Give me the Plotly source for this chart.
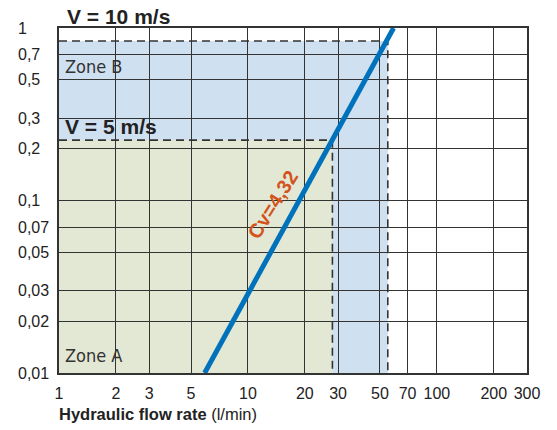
import numpy as np
import plotly.graph_objects as go

# ---------------- data ----------------
x_ticks = [1, 2, 3, 5, 10, 20, 30, 50, 70, 100, 200, 300]
x_tick_labels = ["1", "2", "3", "5", "10", "20", "30", "50", "70", "100", "200", "300"]
y_ticks = [1, 0.7, 0.5, 0.3, 0.2, 0.1, 0.07, 0.05, 0.03, 0.02, 0.01]
y_tick_labels = ["1", "0,7", "0,5", "0,3", "0,2", "0,1", "0,07", "0,05", "0,03", "0,02", "0,01"]

# Cv = 4,32 characteristic (flow l/min vs pressure drop)
cv_flow = [5.9, 59]
cv_dp = [0.01, 1]

# zone limits
zone_a_flow = 28     # V = 5 m/s
zone_a_dp = 0.224
zone_b_flow = 55     # V = 10 m/s
zone_b_dp = 0.84
x_min, x_max = 1, 300
y_min, y_max = 0.01, 1

FONT = "Liberation Sans, Arial, Helvetica, sans-serif"
NARROW = "Liberation Sans Narrow, DejaVu Sans Condensed, Arial Narrow, sans-serif"
TXT = "#222222"

fig = go.Figure()

# dashed limit lines
fig.add_trace(go.Scatter(x=[x_min, zone_b_flow, zone_b_flow], y=[zone_b_dp, zone_b_dp, y_min],
                         mode="lines", line=dict(color="#333333", width=1.6, dash="8px,5px"),
                         hoverinfo="skip", showlegend=False))
fig.add_trace(go.Scatter(x=[x_min, zone_a_flow, zone_a_flow], y=[zone_a_dp, zone_a_dp, y_min],
                         mode="lines", line=dict(color="#333333", width=1.6, dash="8px,5px"),
                         hoverinfo="skip", showlegend=False))
# Cv line
fig.add_trace(go.Scatter(x=cv_flow, y=cv_dp, mode="lines",
                         line=dict(color="#0072bc", width=5), showlegend=False, cliponaxis=True))

# zones as shapes below the grid
fig.add_shape(type="rect", xref="x", yref="y", x0=x_min, x1=zone_b_flow, y0=y_min, y1=zone_b_dp,
              fillcolor="#cfe0f1", line=dict(width=0), layer="below")
fig.add_shape(type="rect", xref="x", yref="y", x0=x_min, x1=zone_a_flow, y0=y_min, y1=zone_a_dp,
              fillcolor="#e2e8d4", line=dict(width=0), layer="below")

ann = []
# y tick labels, left aligned
for v, t in zip(y_ticks, y_tick_labels):
    ann.append(dict(x=-0.092, xref="paper", y=np.log10(v), yref="y", text=t, showarrow=False,
                    xanchor="left", yanchor="middle", font=dict(family=FONT, size=16, color=TXT)))

lx = np.log10(1.05)
ann += [
    dict(x=0.012, xref="paper", y=1.0, yref="paper", yanchor="bottom", yshift=-2,
         text="<b>V = 10 m/s</b>", showarrow=False,
         xanchor="left", font=dict(family=FONT, size=21, color=TXT)),
    dict(x=lx, y=np.log10(0.27), text="<b>V = 5 m/s</b>", showarrow=False,
         xanchor="left", yanchor="middle", font=dict(family=FONT, size=21, color=TXT)),
    dict(x=lx, y=np.log10(0.6), text="Zone B", showarrow=False,
         xanchor="left", yanchor="middle", font=dict(family=NARROW, size=18, color="#333333")),
    dict(x=lx, y=np.log10(0.0126), text="Zone A", showarrow=False,
         xanchor="left", yanchor="middle", font=dict(family=NARROW, size=18, color="#333333")),
    dict(x=np.log10(13.5), y=np.log10(0.094), text="<b>Cv=4,32</b>", showarrow=False,
         textangle=-58, xanchor="center", yanchor="middle",
         font=dict(family=FONT, size=20, color="#d4531c")),
    dict(x=-0.004, xref="paper", y=-0.12, yref="paper",
         text="<b>Hydraulic flow rate</b> (l/min)", showarrow=False,
         xanchor="left", yanchor="middle", font=dict(family=FONT, size=16.5, color=TXT)),
]

fig.update_layout(
    width=549, height=422,
    margin=dict(l=50.5, r=30, t=20, b=57),
    paper_bgcolor="white", plot_bgcolor="white",
    annotations=ann,
    font=dict(family=FONT, size=16, color=TXT),
    xaxis=dict(type="log", range=[np.log10(x_min), np.log10(x_max)],
               tickvals=x_ticks, ticktext=x_tick_labels,
               showgrid=True, gridcolor="#333333", gridwidth=1.3,
               showline=True, linecolor="#333333", linewidth=1.6, mirror=True,
               ticks="outside", ticklen=5, tickcolor="rgba(0,0,0,0)",
               tickfont=dict(family=FONT, size=16, color=TXT), zeroline=False),
    yaxis=dict(type="log", range=[np.log10(y_min), np.log10(y_max)],
               tickvals=y_ticks, showticklabels=False,
               showgrid=True, gridcolor="#333333", gridwidth=1.3,
               showline=True, linecolor="#333333", linewidth=1.6, mirror=True,
               zeroline=False),
)

fig.write_html("out.html")
